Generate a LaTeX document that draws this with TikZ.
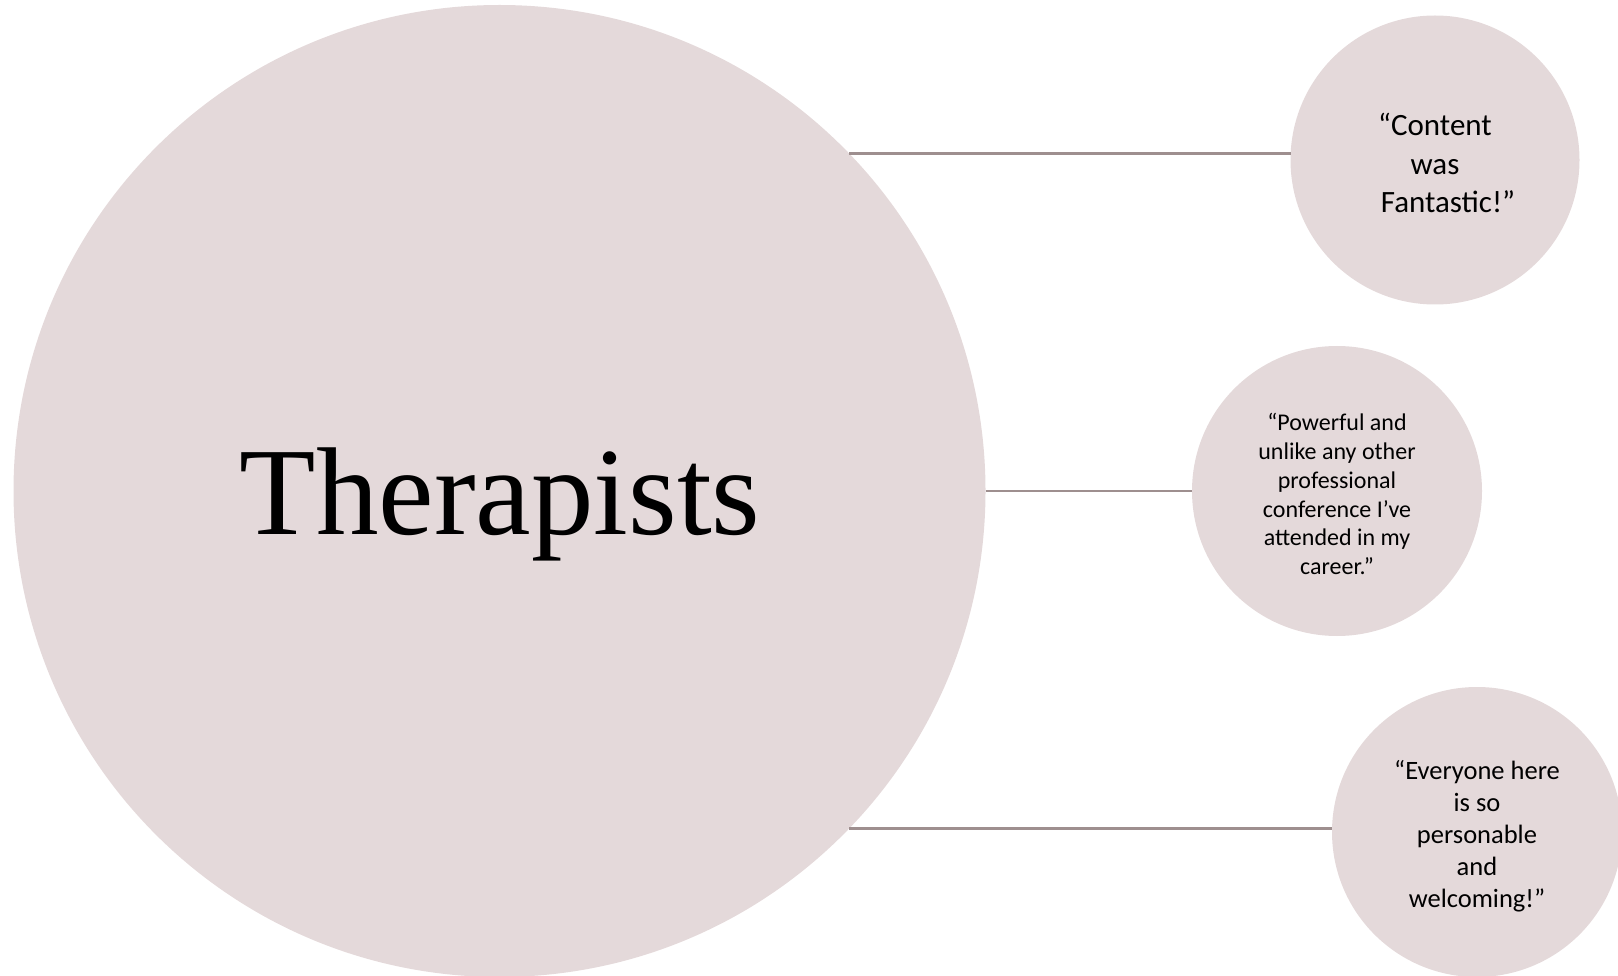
\documentclass[tikz,border=0pt]{standalone}
\usepackage{fontspec}
\setmainfont{Liberation Serif}
\newfontfamily\quotefont{Carlito}
\definecolor{bubble}{RGB}{228,217,218}
\definecolor{linkline}{RGB}{158,143,143}
\begin{document}
\begin{tikzpicture}[x=1pt,y=-1pt,
  bubblenode/.style={circle,fill=bubble,draw=none,inner sep=0pt,outer sep=0pt},
  conn/.style={draw=linkline,line width=2.4pt},
  quote/.style={align=center,inner sep=0pt,text=black}]
\clip (0,0) rectangle (1618,976);
\useasboundingbox (0,0) rectangle (1618,976);
\node[bubblenode,minimum size=972pt] (big) at (499.5,491) {};
\node[bubblenode,minimum size=289pt] (c1) at (1435,160) {};
\node[bubblenode,minimum size=290pt] (c2) at (1337,491) {};
\node[bubblenode,minimum size=290pt] (c3) at (1477,832) {};
\node[anchor=base,inner sep=0pt,font={\fontsize{125}{125}\selectfont}] (title) at (500,534.5) {Therapists};
\node[quote,font={\quotefont\fontsize{31}{38.7}\selectfont}] (q1) at (1435,163) {“Content\\ was\\ \hspace*{26pt}Fantastic!”};
\node[quote,font={\quotefont\fontsize{24}{28.9}\selectfont}] (q2) at (1337,494) {“Powerful and\\ unlike any other\\ professional\\ conference I’ve\\ attended in my\\ career.”};
\node[quote,font={\quotefont\fontsize{26.5}{32}\selectfont}] (q3) at (1477,836) {“Everyone here\\ is so\\ personable\\ and\\ welcoming!”};
\draw[conn] (big.44.6) -- (big.44.6 -| c1.west);
\draw[conn] (big.east) -- (c2.west);
\draw[conn] (big.-44.6) -- (big.-44.6 -| c3.west);
\end{tikzpicture}
\end{document}
